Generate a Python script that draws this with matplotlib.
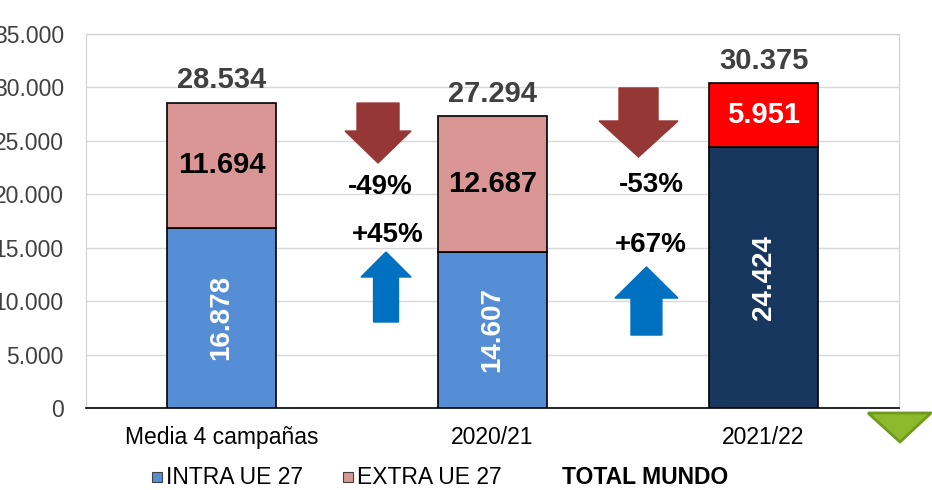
import matplotlib
matplotlib.use('Agg')
import matplotlib.pyplot as plt
from matplotlib.patches import Polygon, Rectangle
from matplotlib.ticker import FuncFormatter

plt.rcParams['font.family'] = ['Liberation Sans', 'DejaVu Sans']

# data
categories = ['Media 4 campañas', '2020/21', '2021/22']
intra = [16878, 14607, 24424]
extra = [11694, 12687, 5951]
totals = [28534, 27294, 30375]

intra_colors = ['#558ED5', '#558ED5', '#17375E']
extra_colors = ['#D99694', '#D99694', '#FF0000']
extra_text = ['black', 'black', 'white']


def fmt(v):
    return f'{v:,.0f}'.replace(',', '.')


fig = plt.figure(figsize=(9.32, 4.9), dpi=100)
ax = fig.add_axes([0.0923, 0.1673, 0.8723, 0.7633])

x = list(range(len(categories)))
w = 0.40
ax.bar(x, intra, w, color=intra_colors, edgecolor='black', linewidth=1.2, zorder=3)
ax.bar(x, extra, w, bottom=intra, color=extra_colors, edgecolor='black', linewidth=1.2, zorder=3)

for i in x:
    ax.text(i, intra[i] / 2, fmt(intra[i]), rotation=90, ha='center', va='center',
            color='white', fontsize=20, fontweight='bold', zorder=4)
    ax.text(i, intra[i] + extra[i] / 2, fmt(extra[i]), ha='center', va='center',
            color=extra_text[i], fontsize=21, fontweight='bold', zorder=4)
    ax.annotate(fmt(totals[i]), (i, intra[i] + extra[i]), xytext=(0, 6),
                textcoords='offset points', ha='center', va='bottom',
                color='#404040', fontsize=21, fontweight='bold')

ax.set_xlim(-0.5, 2.5)
ax.set_ylim(0, 35000)
ax.set_yticks(range(0, 35001, 5000))
ax.yaxis.set_major_formatter(FuncFormatter(lambda v, p: fmt(v)))
ax.set_xticks(x)
ax.set_xticklabels(categories)
ax.tick_params(axis='y', length=0, pad=16, labelsize=16.5, labelcolor='#404040')
ax.tick_params(axis='x', length=0, pad=13, labelsize=16.5)
ax.grid(axis='y', color='#D9D9D9', linewidth=1, zorder=0)
for s in ['left', 'top', 'right']:
    ax.spines[s].set_color('#D0D0D0')
ax.spines['bottom'].set_color('black')
ax.spines['bottom'].set_linewidth(1.2)


# change arrows between bars
def arrow(cx, y0, y1, yhead, head_w, shaft_w, color):
    pts = [(cx - shaft_w / 2, y0), (cx + shaft_w / 2, y0), (cx + shaft_w / 2, yhead),
           (cx + head_w / 2, yhead), (cx, y1), (cx - head_w / 2, yhead),
           (cx - shaft_w / 2, yhead)]
    ax.add_patch(Polygon(pts, closed=True, color=color, zorder=5, clip_on=False))


arrow(0.5775, 28540, 22930, 25920, 0.2435, 0.155, '#953735')
arrow(0.607, 8050, 14600, 12260, 0.1845, 0.092, '#0070C0')
arrow(1.5387, 29950, 23490, 26860, 0.2915, 0.144, '#953735')
arrow(1.568, 6830, 13200, 10290, 0.2325, 0.114, '#0070C0')

chg_extra = [extra[2] / extra[0] - 1, extra[2] / extra[1] - 1]
chg_intra = [intra[2] / intra[0] - 1, intra[2] / intra[1] - 1]
pct_style = dict(ha='center', va='center', fontsize=20, fontweight='bold')
ax.text(0.585, 20680, f'{chg_extra[0] * 100:.0f}%', **pct_style)
ax.text(0.614, 16190, f'+{chg_intra[0] * 100:.0f}%', **pct_style)
ax.text(1.585, 20870, f'{chg_extra[1] * 100:.0f}%', **pct_style)
ax.text(1.585, 15250, f'+{chg_intra[1] * 100:.0f}%', **pct_style)

# green triangle bottom right
W, H = 932, 490
tri = [(868 / W, 1 - 413 / H), (931 / W, 1 - 413 / H), (900 / W, 1 - 442 / H)]
fig.patches.append(Polygon(tri, closed=True, transform=fig.transFigure,
                           facecolor='#8DBA2C', edgecolor='#6E9A1F', linewidth=2))

# legend
ly = 1 - 477 / H
for sx, col, label in [(152, '#558ED5', 'INTRA UE 27'), (343, '#D99694', 'EXTRA UE 27')]:
    fig.patches.append(Rectangle((sx / W, ly - 5 / H), 10 / W, 10 / H, transform=fig.transFigure,
                                 facecolor=col, edgecolor='#404040', linewidth=0.8))
    fig.text((sx + 14) / W, ly, label, ha='left', va='center', fontsize=16.5)
fig.text(562 / W, ly, 'TOTAL MUNDO', ha='left', va='center', fontsize=16.5, fontweight='bold')

fig.savefig('out.png', dpi=100)
